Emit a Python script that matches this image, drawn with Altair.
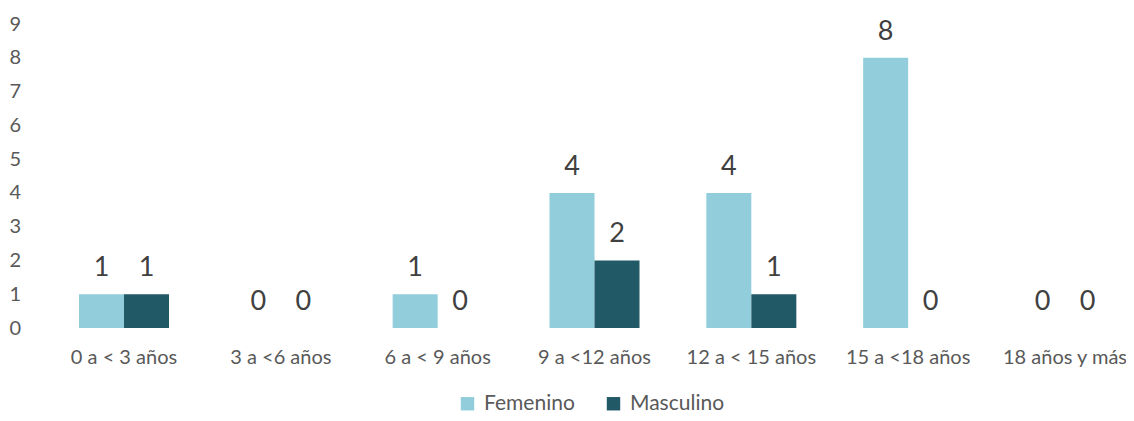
import altair as alt
import pandas as pd

categories = ["0 a < 3 años", "3 a <6 años", "6 a < 9 años", "9 a <12 años",
              "12 a < 15 años", "15 a <18 años", "18 años y más"]
femenino = [1, 0, 1, 4, 4, 8, 0]
masculino = [1, 0, 0, 2, 1, 0, 0]
series = ["Femenino", "Masculino"]
colors = ["#92CDDC", "#215967"]
y_ticks = [0, 1, 2, 3, 4, 5, 6, 7, 8, 9]

rows = []
for c, f, m in zip(categories, femenino, masculino):
    rows.append({"cat": c, "serie": "Femenino", "val": f})
    rows.append({"cat": c, "serie": "Masculino", "val": m})
df = pd.DataFrame(rows)

FONT = "Lato"

x = alt.X("cat:N", sort=categories, title=None,
          scale=alt.Scale(paddingInner=0.426, paddingOuter=0),
          axis=alt.Axis(labelAngle=0, domain=False, ticks=False, labelPadding=19,
                        labelFontSize=20, labelColor="#595959", labelFont=FONT,
                        labelOverlap=False))
y = alt.Y("val:Q", title=None, scale=alt.Scale(domain=[0, 9], nice=False, zero=True),
          axis=alt.Axis(values=y_ticks, tickCount=10, grid=False, domain=False, ticks=False,
                        labelPadding=70, labelFontSize=20, labelColor="#595959",
                        labelFont=FONT, labelAlign="left", labelOverlap=False,
                        labelBound=False))

color = alt.Color("serie:N", sort=series,
                  scale=alt.Scale(domain=series, range=colors),
                  legend=alt.Legend(title=None, orient="none", direction="horizontal",
                                    legendX=378, legendY=369, symbolType="square",
                                    symbolSize=180, labelFontSize=21, labelColor="#595959",
                                    labelFont=FONT, columnPadding=28, labelOffset=6,
                                    symbolStrokeWidth=0))

base = alt.Chart(df).encode(x=x, y=y, xOffset=alt.XOffset("serie:N", sort=series))

bars = base.mark_bar().encode(color=color)
labels = base.mark_text(baseline="alphabetic", dy=-18, fontSize=27, color="#404040",
                        font=FONT).encode(text="val:Q")

chart = (bars + labels).properties(
    width=1031, height=304,
    autosize=alt.AutoSizeParams(type="none"),
    padding={"left": 71, "top": 16, "right": 16, "bottom": 85},
).configure_view(stroke=None)

chart.save("out.html", embed_options={"renderer": "svg", "actions": False})
